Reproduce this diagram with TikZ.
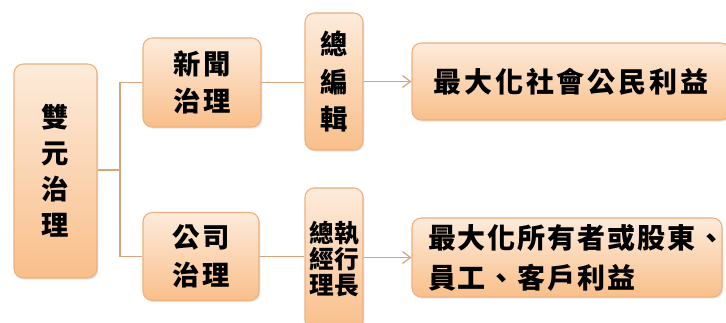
\documentclass[tikz,border=0pt]{standalone}
\usepackage{fontspec}
\setmainfont{Noto Sans CJK TC}
\usetikzlibrary{arrows.meta,shadows}
\definecolor{boxtop}{HTML}{FDEBDB}
\definecolor{boxbot}{HTML}{F9BF8A}
\definecolor{boxline}{HTML}{EDB07E}
\definecolor{linecol}{HTML}{D6A57C}
\begin{document}
\begin{tikzpicture}[x=0.75pt,y=-0.75pt,
  box/.style={draw=boxline, line width=0.8pt, rounded corners=7pt,
    top color=boxtop, bottom color=boxbot,
    drop shadow={shadow xshift=1pt, shadow yshift=-1.2pt, opacity=0.2},
    inner sep=0pt, align=center,
    font=\bfseries\fontsize{20.5}{27}\selectfont\addfontfeature{LetterSpace=10}},
  conn/.style={draw=linecol, line width=0.9pt},
  arr/.style={conn, -{Straight Barb[length=6pt,width=9pt]}}]
\clip (0,0) rectangle (726,323);
\node[box, minimum width=83*0.75pt, minimum height=214*0.75pt] (shuang) at (55.5,171) {雙\\元\\治\\理};
\node[box, minimum width=118*0.75pt, minimum height=89*0.75pt, font=\bfseries\fontsize{20.5}{28}\selectfont\addfontfeature{LetterSpace=10}] (xinwen) at (202,82.5) {新聞\\治理};
\node[box, minimum width=116*0.75pt, minimum height=88*0.75pt, font=\bfseries\fontsize{20.5}{28}\selectfont\addfontfeature{LetterSpace=10}] (gongsi) at (201,256.5) {公司\\治理};
\node[box, minimum width=58*0.75pt, minimum height=137*0.75pt, font=\bfseries\fontsize{20.5}{28}\selectfont] (zbj) at (334,81.5) {總\\編\\輯};
\node[box, minimum width=58*0.75pt, minimum height=142*0.75pt, font=\bfseries\fontsize{18.5}{19.8}\selectfont] (zzx) at (334,259) {總執\\經行\\理長};
\node[box, minimum width=318*0.75pt, minimum height=77*0.75pt, font=\bfseries\fontsize{21}{28}\selectfont\addfontfeature{LetterSpace=10}] (goal1) at (571,81.5) {最大化社會公民利益};
\node[box, minimum width=310*0.75pt, minimum height=79*0.75pt, inner xsep=16*0.75pt, text width=278*0.75pt, align=left, font=\bfseries\fontsize{21}{30}\selectfont\addfontfeature{LetterSpace=7}] (goal2) at (567,257.5) {最大化所有者或股東、\\員工、客戶利益};
\coordinate (j) at (120,170);
\draw[conn] (shuang.east |- j) -- (j);
\draw[conn] (j) |- (xinwen.west);
\draw[conn] (j) |- (gongsi.west);
\draw[conn] (xinwen.east) -- (xinwen.east -| zbj.west);
\draw[conn] (gongsi.east) -- (gongsi.east -| zzx.west);
\draw[arr] (zbj.east |- goal1.west) -- (goal1.west);
\draw[arr] (zzx.east |- goal2.west) -- (goal2.west);
\end{tikzpicture}
\end{document}
